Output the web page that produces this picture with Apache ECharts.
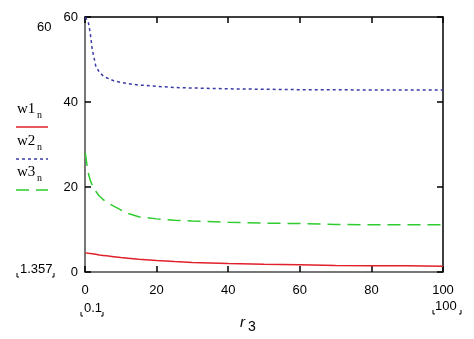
<!DOCTYPE html>
<html>
<head>
<meta charset="utf-8">
<script src="https://cdn.jsdelivr.net/npm/echarts@6/dist/echarts.min.js"></script>
<style>
  html, body { margin: 0; padding: 0; background: #fff; }
  #chart { width: 474px; height: 339px; }
</style>
</head>
<body>
<div id="chart"></div>
<script>
// r3 sample points and the three curves
const r3 = [0.1, 0.5, 1, 1.5, 2, 3, 4, 5, 6, 8, 10, 12, 15, 20, 25, 30, 40, 50, 60, 70, 80, 90, 100];
const w1 = [4.5, 4.45, 4.4, 4.35, 4.3, 4.15, 4.0, 3.9, 3.8, 3.6, 3.4, 3.25, 3.0, 2.7, 2.45, 2.25, 2.0, 1.8, 1.7, 1.55, 1.5, 1.45, 1.357];
const w2 = [60, 60, 58.5, 56, 52.5, 48.5, 47, 46.2, 45.7, 45, 44.6, 44.3, 44, 43.7, 43.4, 43.3, 43.1, 43, 42.9, 42.9, 42.8, 42.8, 42.8];
const w3 = [28, 25.5, 23, 21.5, 20.5, 19, 17.9, 17.1, 16.4, 15.5, 14.6, 13.8, 13, 12.5, 12.2, 12, 11.7, 11.5, 11.4, 11.2, 11.1, 11.1, 11.1];
const xTicks = [0, 20, 40, 60, 80, 100];
const yTicks = [0, 20, 40, 60];

const pairs = (ys) => r3.map((x, i) => [x, ys[i]]);

const chart = echarts.init(document.getElementById('chart'));

const numFont = { fontFamily: 'Liberation Sans', fontSize: 13, color: '#000' };
const serif = 'Liberation Serif';

// little corner marks around the limit labels
const corners = (x1, x2, y) => [
    { type: 'polyline', shape: { points: [[x1, y - 4], [x1, y], [x1 + 2, y]] }, style: { stroke: '#000', lineWidth: 1 } },
    { type: 'polyline', shape: { points: [[x2 - 2, y], [x2, y], [x2, y - 4]] }, style: { stroke: '#000', lineWidth: 1 } }
];

const legendItem = (name, y, color, dash) => [
    { type: 'text', left: 17, top: y - 11, style: { text: name, font: '15px ' + serif, fill: '#000' } },
    { type: 'text', left: 37, top: y - 3, style: { text: 'n', font: '10px ' + serif, fill: '#000' } },
    { type: 'line', shape: { x1: 16, y1: y + 14, x2: 48, y2: y + 14 }, style: { stroke: color, lineWidth: 1.5, lineDash: dash } }
];

chart.setOption({
    animation: false,
    grid: { left: 85, right: 31, top: 17, bottom: 67 },
    xAxis: [
        {
            type: 'value', min: 0, max: 100, interval: 20,
            axisLine: { onZero: false, lineStyle: { color: '#777', width: 2 } },
            axisTick: { inside: true, length: 6, lineStyle: { color: '#000', width: 1.5 } },
            axisLabel: Object.assign({ margin: 12, formatter: v => xTicks.includes(v) ? String(v) : '' }, numFont),
            splitLine: { show: false }
        },
        {
            type: 'value', position: 'top', min: 0, max: 100, interval: 20,
            axisLine: { onZero: false, lineStyle: { color: '#000', width: 1.5 } },
            axisTick: { inside: true, length: 6, lineStyle: { color: '#000', width: 1.5 } },
            axisLabel: { show: false },
            splitLine: { show: false }
        }
    ],
    yAxis: [
        {
            type: 'value', min: 0, max: 60, interval: 20,
            axisLine: { show: true, onZero: false, lineStyle: { color: '#777', width: 2 } },
            axisTick: { show: true, inside: true, length: 6, lineStyle: { color: '#000', width: 1.5 } },
            axisLabel: Object.assign({ margin: 7, formatter: v => yTicks.includes(v) ? String(v) : '' }, numFont),
            splitLine: { show: false }
        },
        {
            type: 'value', position: 'right', min: 0, max: 60, interval: 20,
            axisLine: { show: true, onZero: false, lineStyle: { color: '#000', width: 1.5 } },
            axisTick: { show: true, inside: true, length: 6, lineStyle: { color: '#000', width: 1.5 } },
            axisLabel: { show: false },
            splitLine: { show: false }
        }
    ],
    series: [
        { name: 'w1', type: 'line', data: pairs(w1), showSymbol: false, lineStyle: { color: '#e0202a', width: 1.5 } },
        { name: 'w2', type: 'line', data: pairs(w2), showSymbol: false, lineStyle: { color: '#3b3ba8', width: 1.5, type: [3, 3] } },
        { name: 'w3', type: 'line', data: pairs(w3), showSymbol: false, lineStyle: { color: '#2ecc2e', width: 1.5, type: [13, 7] } }
    ],
    graphic: [
        { type: 'text', left: 37, top: 21, style: { text: '60', font: '13px Liberation Sans', fill: '#000' } },
        { type: 'text', left: 20, top: 263, style: { text: '1.357', font: '13px Liberation Sans', fill: '#000' } },
        ...corners(17, 54, 277),
        { type: 'text', left: 84, top: 302, style: { text: '0.1', font: '13px Liberation Sans', fill: '#000' } },
        ...corners(81, 103, 316),
        { type: 'text', left: 435, top: 300, style: { text: '100', font: '13px Liberation Sans', fill: '#000' } },
        ...corners(433, 461, 314),
        { type: 'text', left: 240, top: 315, style: { text: 'r', font: 'italic 15px Liberation Sans', fill: '#000' } },
        { type: 'text', left: 248, top: 320, style: { text: '3', font: '14px Liberation Sans', fill: '#000' } },
        ...legendItem('w1', 113, '#e0202a', null),
        ...legendItem('w2', 145, '#3b3ba8', [3, 3]),
        ...legendItem('w3', 176, '#2ecc2e', [13, 7])
    ]
});
</script>
</body>
</html>
